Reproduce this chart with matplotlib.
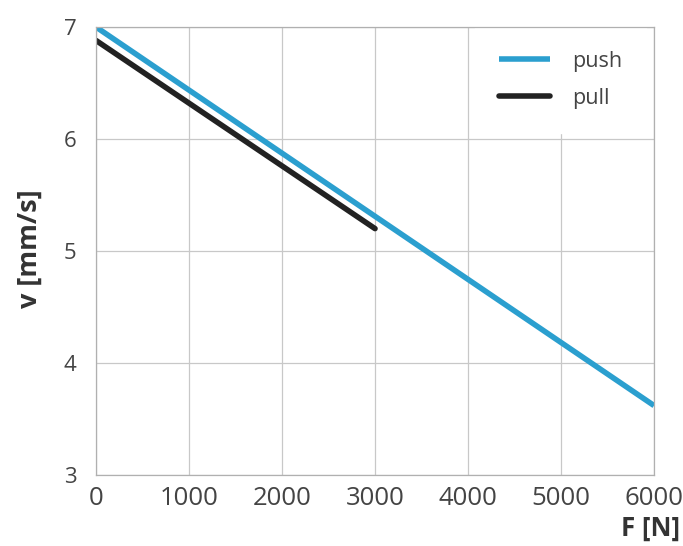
import matplotlib
matplotlib.use("Agg")
import matplotlib.pyplot as plt

plt.rcParams['font.family'] = ['Open Sans', 'DejaVu Sans']

# data
push_F = [0, 6000]
push_v = [7.0, 3.62]
pull_F = [0, 3000]
pull_v = [6.88, 5.2]

x_ticks = [0, 1000, 2000, 3000, 4000, 5000, 6000]
y_ticks = [3, 4, 5, 6, 7]

fig = plt.figure(figsize=(6.83, 5.46), dpi=100)
ax = fig.add_axes([0.1406, 0.130, 0.817, 0.8205])

ax.plot(push_F, push_v, color='#2b9fcf', lw=4, solid_capstyle='butt', label='push', zorder=3)
ax.plot(pull_F, pull_v, color='#222222', lw=4, solid_capstyle='round', label='pull', zorder=3)

ax.set_xlim(0, 6000)
ax.set_ylim(3, 7)
ax.set_xticks(x_ticks)
ax.set_yticks(y_ticks)
ax.grid(True, color='#c8c8c8', lw=0.9)
ax.set_axisbelow(True)
for s in ax.spines.values():
    s.set_color('#b0b0b0')
    s.set_linewidth(0.9)
    s.set_zorder(4)
ax.tick_params(axis='x', length=0, labelsize=18.5, colors='#444444', pad=8)
ax.tick_params(axis='y', length=0, labelsize=16, colors='#444444', pad=14)

leg = ax.legend(loc='upper left', bbox_to_anchor=(0.679, 1.0), frameon=True,
                fontsize=15.5, handlelength=2.4, borderpad=1.1, labelspacing=0.75,
                borderaxespad=0, handletextpad=1.0)
leg.set_zorder(2)
leg.get_frame().set_facecolor('white')
leg.get_frame().set_edgecolor('white')
leg.get_frame().set_alpha(1)
leg.get_frame().set_boxstyle('square', pad=0)
for t in leg.get_texts():
    t.set_color('#444444')

fig.text(0.044, 0.545, 'v [mm/s]', rotation=90, ha='center', va='center',
         fontsize=19.5, fontweight='bold', color='#333333')
fig.text(0.996, 0.033, 'F [N]', ha='right', va='center',
         fontsize=18.5, fontweight='bold', color='#333333')

fig.savefig('out.png', dpi=100)
